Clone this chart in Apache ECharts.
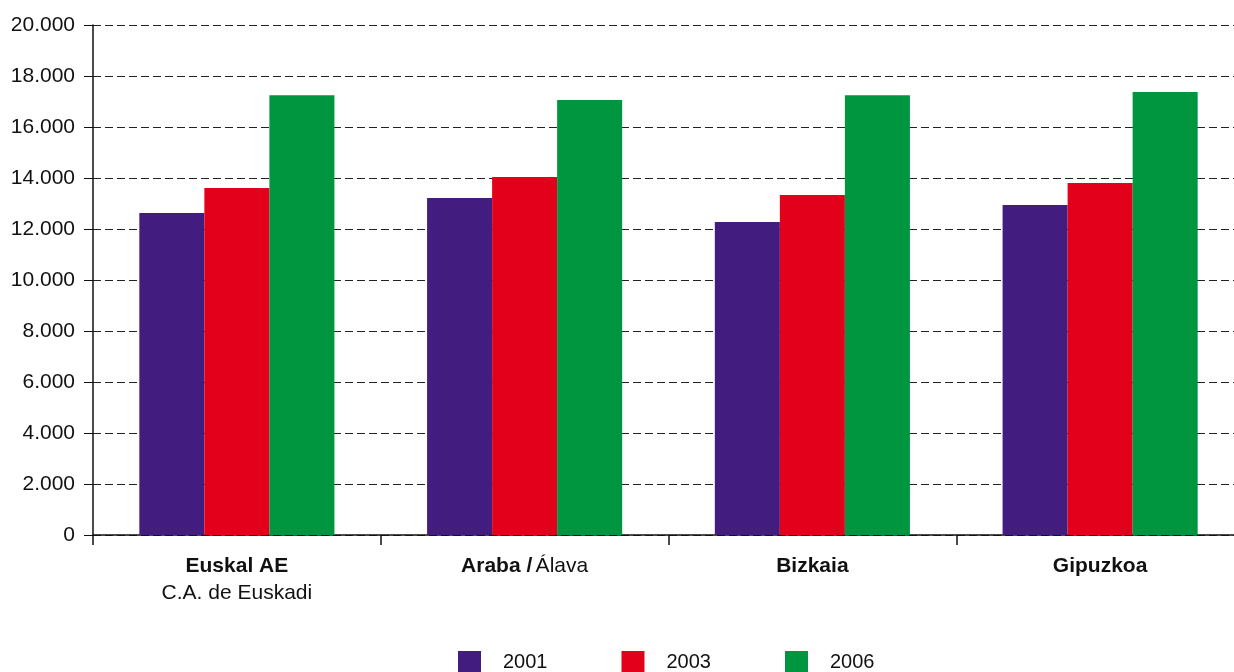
<!DOCTYPE html>
<html>
<head>
<meta charset="utf-8">
<script src="https://cdn.jsdelivr.net/npm/echarts@6/dist/echarts.min.js"></script>
<style>
  html, body { margin: 0; padding: 0; background: #fff; overflow: hidden; }
  /* the plot area runs a little past the right edge of the picture */
  #main { width: 1244px; height: 672px; }
</style>
</head>
<body>
<div id="main"></div>
<script>
// datuak / datos
var categories = ['Euskal AE', 'Araba', 'Bizkaia', 'Gipuzkoa'];
var years = ['2001', '2003', '2006'];
var v2001 = [12630, 13220, 12270, 12940];
var v2003 = [13610, 14040, 13330, 13800];
var v2006 = [17250, 17060, 17250, 17370];
var yTicks = [0, 2000, 4000, 6000, 8000, 10000, 12000, 14000, 16000, 18000, 20000];

var colors = ['#431c80', '#e2001a', '#00953f'];
var font = 'Liberation Sans, Arial, sans-serif';

function fmt(v) {
    return String(v).replace(/\B(?=(\d{3})+(?!\d))/g, '.');
}

// etiketa lodiak + arruntak
var catLabels = {
    'Euskal AE': '{b|Euskal AE}\n{n|C.A. de Euskadi}',
    'Araba': '{b|Araba /} {n|Álava}',
    'Bizkaia': '{b|Bizkaia}',
    'Gipuzkoa': '{b|Gipuzkoa}'
};

var chartDom = document.getElementById('main');
var myChart = echarts.init(chartDom);

var option = {
    animation: false,
    color: colors,
    textStyle: { fontFamily: font },
    grid: { left: 93, top: 25, right: 0, height: 510 },
    legend: {
        left: 458,
        top: 651,
        padding: 0,
        itemWidth: 23,
        itemHeight: 22,
        itemGap: 74,
        icon: 'rect',
        textStyle: { fontSize: 20, color: '#111', padding: [0, 0, 0, 17], fontFamily: font },
        data: years
    },
    xAxis: {
        type: 'category',
        data: categories,
        axisLine: { lineStyle: { color: '#111', width: 1.5 } },
        axisTick: { show: true, length: 10, lineStyle: { color: '#111', width: 1.5 } },
        axisLabel: {
            margin: 18,
            formatter: function (v) { return catLabels[v]; },
            rich: {
                b: { fontSize: 21, fontWeight: 'bold', color: '#111', lineHeight: 27, fontFamily: font },
                n: { fontSize: 21, color: '#111', lineHeight: 27, fontFamily: font }
            }
        }
    },
    yAxis: {
        type: 'value',
        min: 0,
        max: 20000,
        interval: 2000,
        axisLine: { show: true, lineStyle: { color: '#111', width: 1.5 } },
        axisTick: { show: true, length: 9, lineStyle: { color: '#111' } },
        axisLabel: {
            margin: 18,
            fontSize: 21,
            color: '#111',
            formatter: function (v) { return yTicks.indexOf(v) >= 0 ? fmt(v) : ''; }
        },
        splitLine: { lineStyle: { color: '#222', type: [8, 4], width: 1 } }
    },
    series: [
        { name: years[0], type: 'bar', data: v2001, barWidth: '22.6%', barGap: '0%' },
        { name: years[1], type: 'bar', data: v2003, barWidth: '22.6%', barGap: '0%' },
        { name: years[2], type: 'bar', data: v2006, barWidth: '22.6%', barGap: '0%' }
    ]
};

myChart.setOption(option);
</script>
</body>
</html>
